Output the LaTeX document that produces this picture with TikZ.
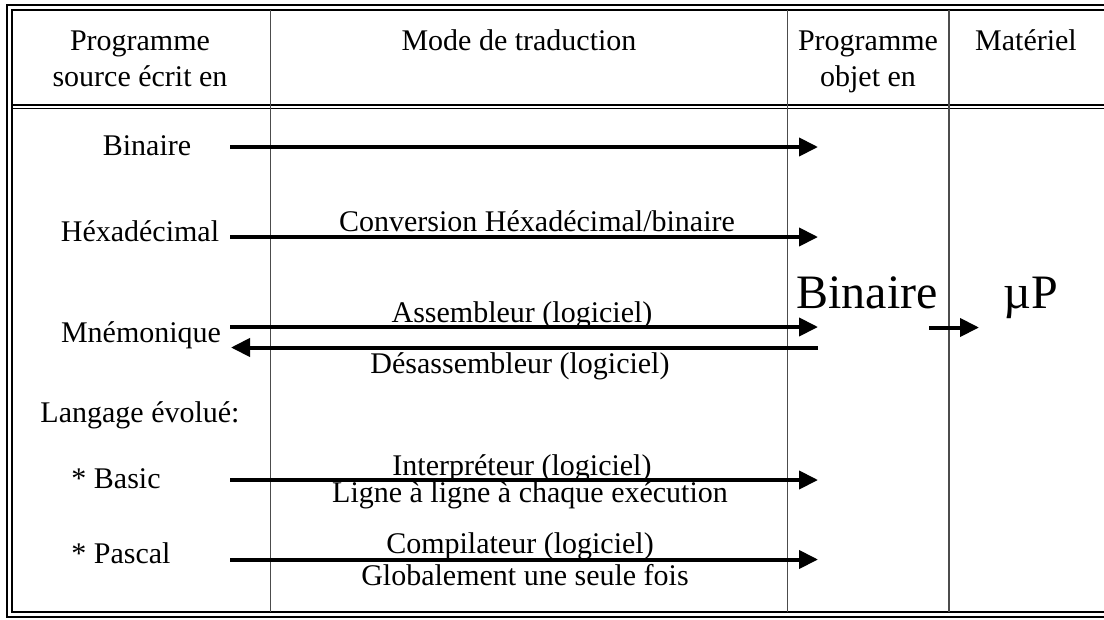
\documentclass[tikz,border=0pt]{standalone}
\usepackage{fontspec}
\setmainfont{Liberation Serif}
\usetikzlibrary{arrows.meta}
\tikzset{
  frame/.style={line width=1.3pt, black},
  colline/.style={line width=1.1pt, black!70},
  txt/.style={inner sep=0pt, anchor=base, font=\fontsize{30}{36}\selectfont},
  hdr/.style={txt, align=center},
  bigtxt/.style={inner sep=0pt, anchor=base, font=\fontsize{48}{56}\selectfont},
  flow/.style={line width=4pt, -{Triangle[length=19pt,width=18pt]}},
}
\begin{document}
\begin{tikzpicture}[x=1pt,y=-1pt]
\useasboundingbox (0,0) rectangle (1104,619);
\fill[white] (0,0) rectangle (1104,619);

% double outer frame (right side runs past the page edge)
\draw[frame] (1104,5) -- (7,5) -- (7,617) -- (1104,617);
\draw[frame] (1104,10) -- (12,10) -- (12,612) -- (1104,612);
% double rule under the header
\draw[frame] (12,105) -- (1104,105);
\draw[frame] (12,108.5) -- (1104,108.5);
% column separators
\draw[colline] (270.5,10) -- (270.5,612);
\draw[colline] (787.5,10) -- (787.5,612);
\draw[colline] (949,10) -- (949,612);

% header (two-line cells are placed by the baseline of their last line)
\node[hdr] (hsrc) at (140,86) {Programme\\source écrit en};
\node[txt] (hmode) at (519,50) {Mode de traduction};
\node[hdr] (hobj) at (868,86) {Programme\\objet en};
\node[txt] (hmat) at (1026,50) {Matériel};

% source languages
\node[txt] (sbin) at (147,155) {Binaire};
\node[txt] (shex) at (140,241) {Héxadécimal};
\node[txt] (smne) at (141,342) {Mnémonique};
\node[txt] (slang) at (140,422) {Langage évolué:};
\node[txt] (sbas) at (116,488) {* Basic};
\node[txt] (spas) at (121,563) {* Pascal};

% target and hardware
\node[bigtxt] (obin) at (867,308) {Binaire};
\node[bigtxt] (mup) at (1031,308) {µP};

% arrow end points
\coordinate (b0) at (230,147);   \coordinate (b1) at (818,147);
\coordinate (h0) at (230,237);   \coordinate (h1) at (818,237);
\coordinate (a0) at (230,327);   \coordinate (a1) at (818,327);
\coordinate (d0) at (818,347.5); \coordinate (d1) at (231,347.5);
\coordinate (i0) at (230,480);   \coordinate (i1) at (818,480);
\coordinate (c0) at (230,559.5); \coordinate (c1) at (818,559.5);
\coordinate (m0) at (929,327.5); \coordinate (m1) at (979,327.5);

\draw[flow] (b0) -- (b1);
\draw[flow] (h0) -- (h1);
\draw[flow] (a0) -- (a1);
\draw[flow] (d0) -- (d1);
\draw[flow] (i0) -- (i1);
\draw[flow] (c0) -- (c1);
\draw[flow] (m0) -- (m1);

% translation modes
\node[txt] (lconv) at (537,231) {Conversion Héxadécimal/binaire};
\node[txt] (lasm) at (522,322) {Assembleur (logiciel)};
\node[txt] (ldis) at (520,373) {Désassembleur (logiciel)};
\node[txt] (lint) at (522,475) {Interpréteur (logiciel)};
\node[txt] (lint2) at (530,502) {Ligne à ligne à chaque exécution};
\node[txt] (lcomp) at (520,553) {Compilateur (logiciel)};
\node[txt] (lcomp2) at (525,585) {Globalement une seule fois};
\end{tikzpicture}
\end{document}
